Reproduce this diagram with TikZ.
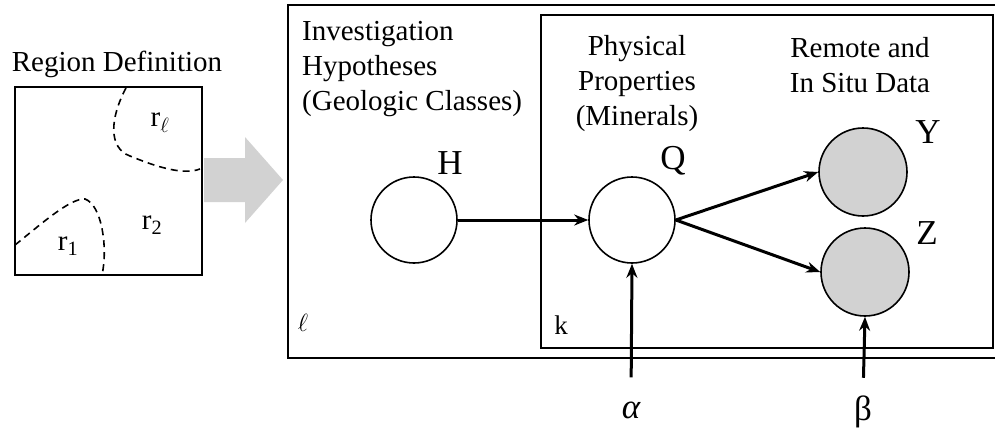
\documentclass[tikz,border=0pt]{standalone}
\usepackage{fontspec}
\setmainfont{Liberation Serif}
\usetikzlibrary{positioning,arrows.meta}

\begin{document}
\begin{tikzpicture}[x=1pt,y=-1pt,>={Stealth[length=14pt,width=11pt]},
        var/.style={circle,draw,line width=1.6pt,minimum size=86pt,inner sep=0pt},
        obs/.style={var,fill=gray!35,minimum size=88pt},
        plate/.style={draw,line width=2pt},
        head/.style={font=\fontsize{29}{35}\selectfont,inner sep=0pt},
        sym/.style={font=\fontsize{35}{40}\selectfont,inner sep=0pt},
        region/.style={line width=1.6pt,dash pattern=on 7pt off 5pt},
        edge/.style={->,line width=3pt}]
      \useasboundingbox (0,0) rectangle (995,434);
      %% ── Region definition (left) ─────────────────────────
      \node[head,anchor=north] (rdef) at (117,51) {Region Definition};
      \node[draw,line width=2pt,minimum width=187pt,minimum height=188pt,inner sep=0pt]
            (reg) at (108.5,181) {};
      \draw[region]
            (126,88) .. controls (110,118) and (108,148) .. (130,156)
            .. controls (152,165) and (182,176) .. (200,169);
      \draw[region]
            (15,245) .. controls (40,225) and (70,198) .. (85,199)
            .. controls (102,205) and (108,248) .. (102,275);
      \node[head] (rl) at (160,123) {r$_\ell$};
      \node[head] (r2) at (152,225) {r\textsubscript{2}};
      \node[head] (r1) at (68,246) {r\textsubscript{1}};
      %% ── Grey block arrow ─────────────────────────────────
      \fill[gray!35] (204,158) -- (245,158) -- (245,137) -- (283,180)
            -- (245,223) -- (245,202) -- (204,202) -- cycle;
      %% ── Plates ───────────────────────────────────────────
      \draw[plate] (995,5) -- (288,5) -- (288,358) -- (995,358);
      \draw[plate] (541,15) rectangle (993,348);
      \node[head,font=\fontsize{27}{30}\selectfont] (pl) at (303,323) {$\ell$};
      \node[head,font=\fontsize{27}{30}\selectfont] (pk) at (561,325) {k};
      %% ── Headings ─────────────────────────────────────────
      \node[head,anchor=north west,align=left] (hyp) at (302,21)
            {Investigation\\Hypotheses\\(Geologic Classes)};
      \node[head,anchor=north,align=center] (phys) at (637,35)
            {Physical\\Properties\\(Minerals)};
      \node[head,anchor=north,align=center] (data) at (860,37)
            {Remote and\\In Situ Data};
      %% ── Variables ────────────────────────────────────────
      \node[var] (h) at (414,220) {};
      \node[var] (q) at (632,220) {};
      \node[obs] (y) at (863,172) {};
      \node[obs] (z) at (865,272) {};
      \node[sym] (hl) at (450,163) {H};
      \node[sym] (ql) at (673,161) {Q};
      \node[sym] (yl) at (928,132) {Y};
      \node[sym] (zl) at (927,233) {Z};
      \node[sym] (al) at (631,410) {\itshape α};
      \node[sym] (be) at (863,412) {β};
      %% ── Edges ────────────────────────────────────────────
      \draw[edge] (h.east) -- (q.west);
      \draw[edge] (q.east) -- (y.west);
      \draw[edge] (q.east) -- (z.west);
      \draw[edge,shorten <=24pt] (al.north) -- (q.south);
      \draw[edge,shorten <=18pt] (be.north) -- (z.south);
    \end{tikzpicture}
\end{document}
